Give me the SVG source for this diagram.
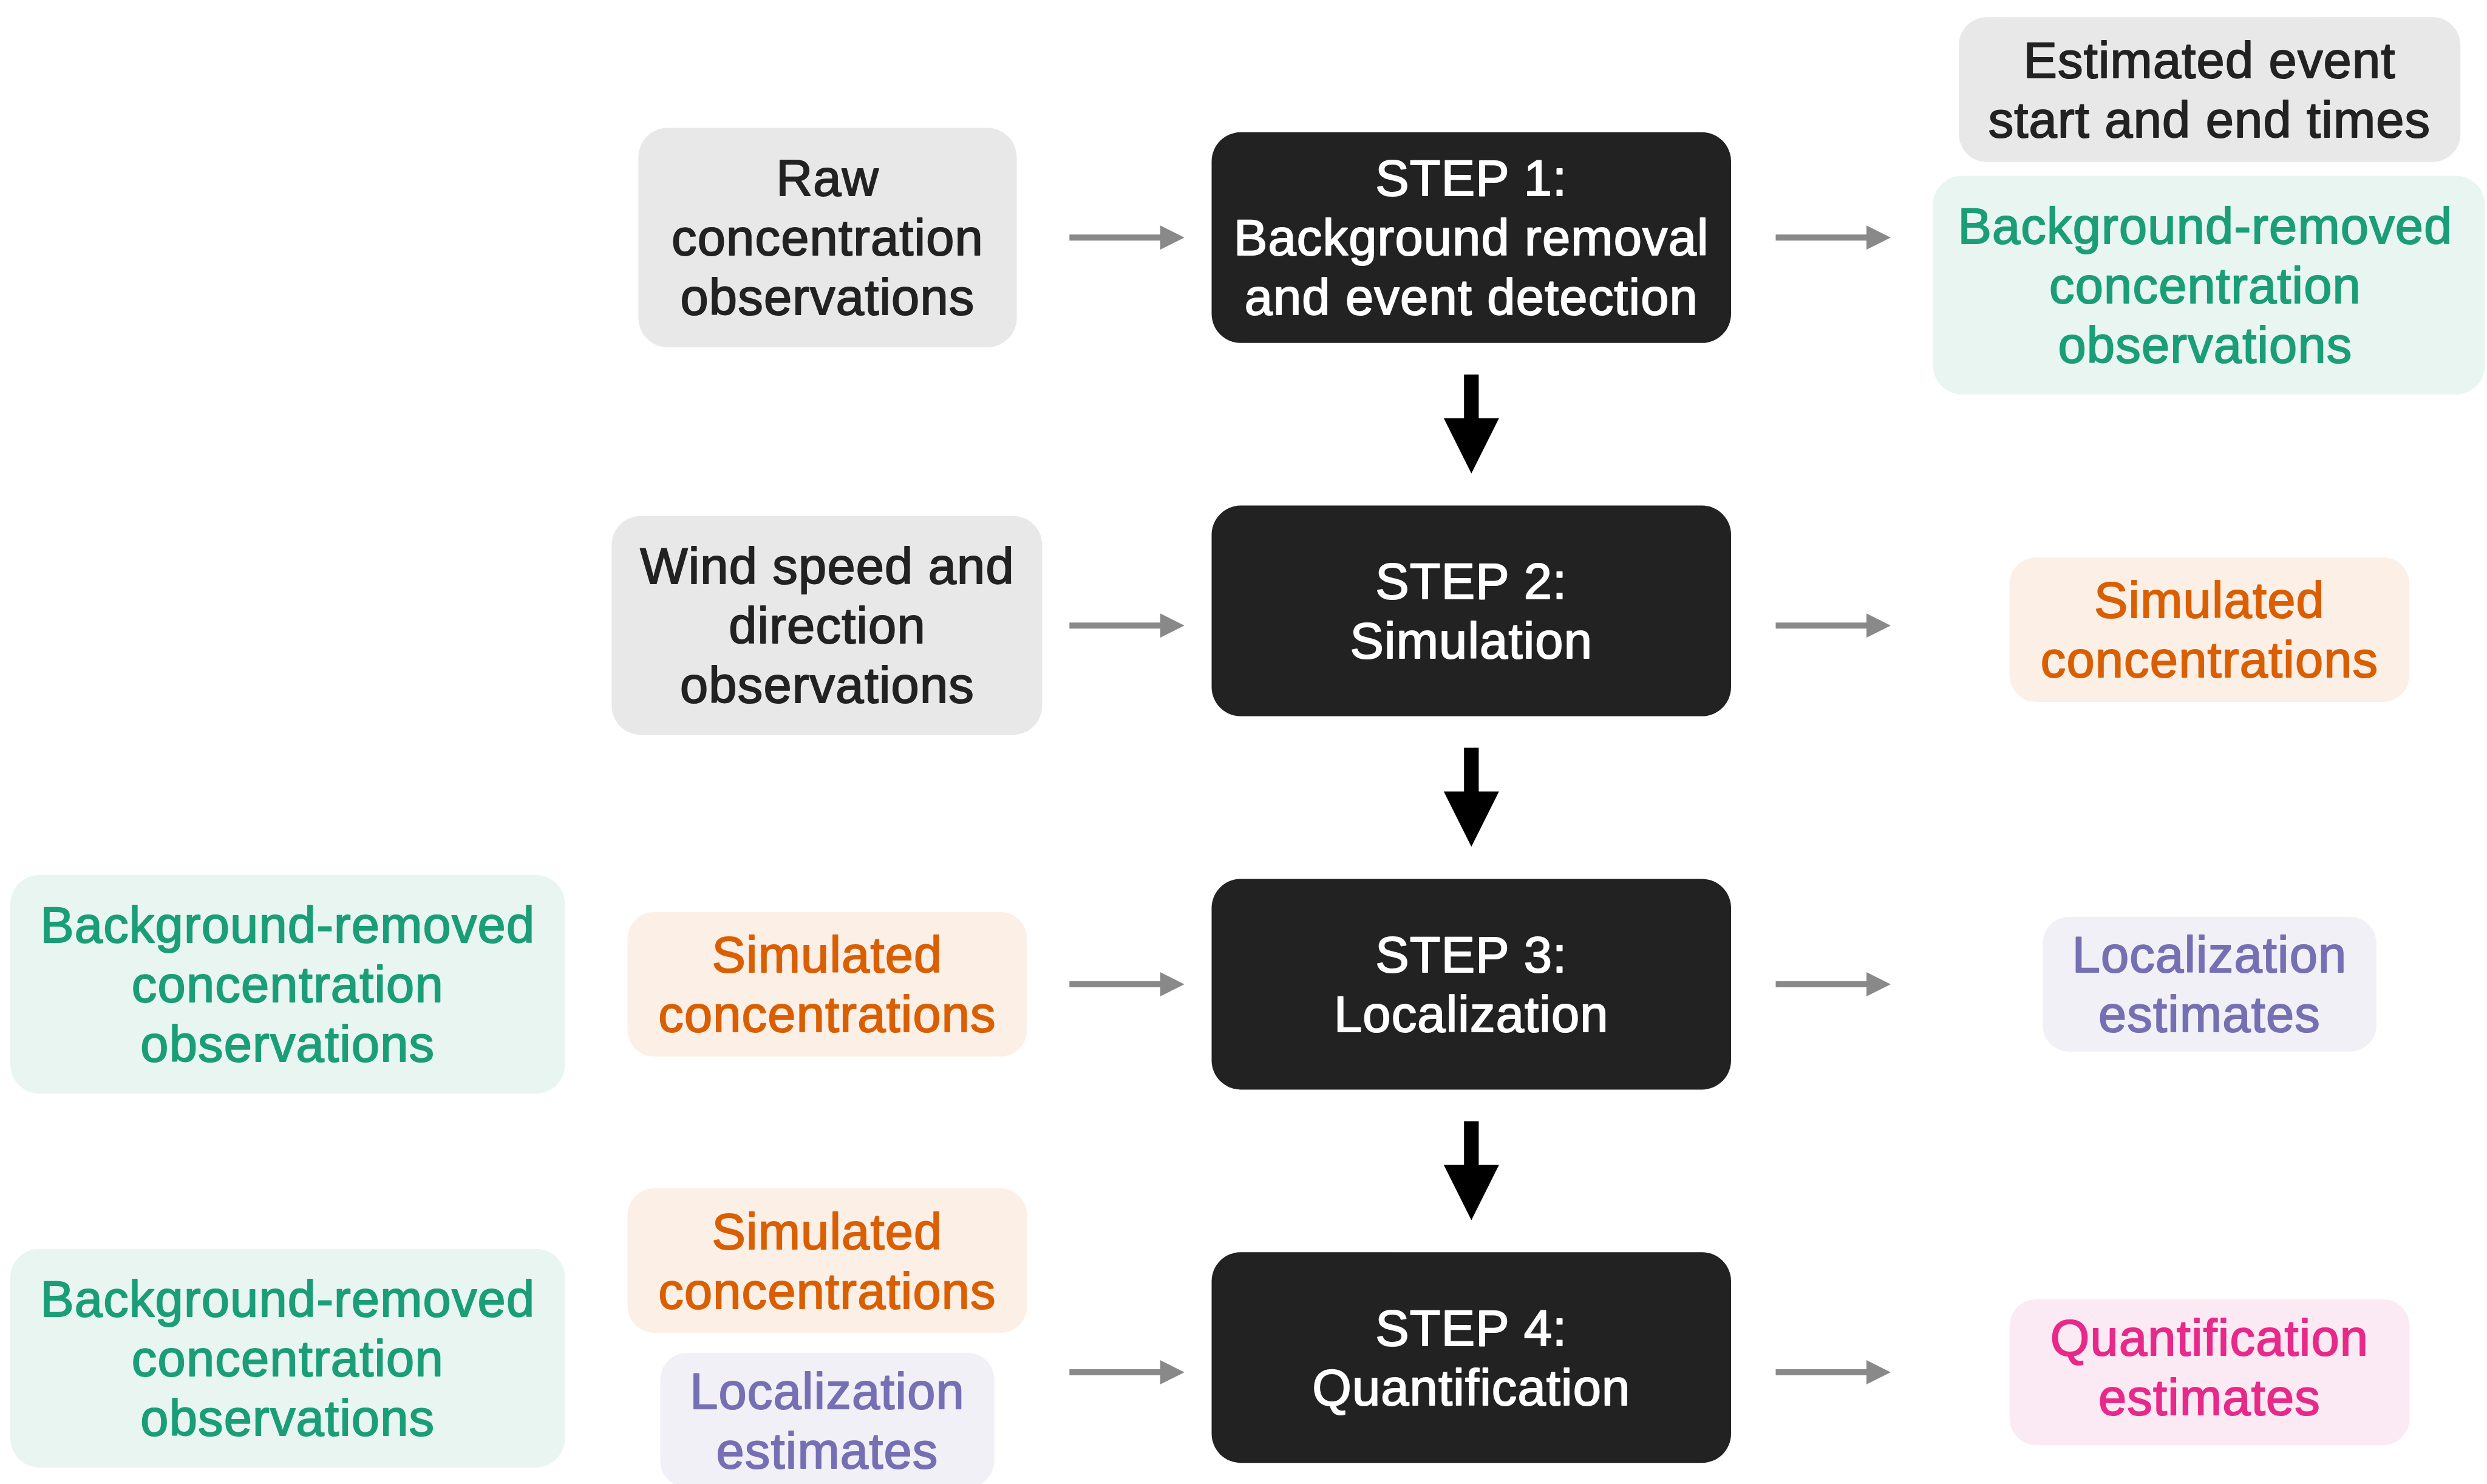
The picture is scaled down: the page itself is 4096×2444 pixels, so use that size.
<svg xmlns="http://www.w3.org/2000/svg" width="4096" height="2444" viewBox="0 0 4096 2444">
  <defs>
    <style>
      text { font-family: "Liberation Sans", Arial, Helvetica, sans-serif; font-size: 83px; letter-spacing: 1.2px; text-anchor: middle; stroke-width: 2px; stroke-linejoin: round; }
      .step rect { fill: #222222; }
      .step text { fill: #ffffff; stroke: #ffffff; }
      .gray rect { fill: #e8e8e8; }
      .gray text { fill: #222222; stroke: #222222; }
      .green rect { fill: #e8f5f1; }
      .green text { fill: #1b9e77; stroke: #1b9e77; }
      .orange rect { fill: #fbefe6; }
      .orange text { fill: #d95f02; stroke: #d95f02; }
      .purple rect { fill: #f1f0f7; }
      .purple text { fill: #7570b3; stroke: #7570b3; }
      .pink rect { fill: #fbe9f3; }
      .pink text { fill: #e7298a; stroke: #e7298a; }
      .feed { fill: #898989; }
      .flow { fill: #000000; }
    </style>
    <!-- horizontal grey arrow, tail at origin, pointing right -->
    <path id="feed-arrow" d="M0,-5 H149.5 V-20 L189.4,0 L149.5,20 V5 H0 Z"/>
    <!-- vertical black arrow, top of shaft at origin, pointing down -->
    <path id="flow-arrow" d="M-12.1,0 H12.1 V72 H45.5 L0,163 L-45.5,72 H-12.1 Z"/>
  </defs>

  <rect width="4096" height="2444" fill="#ffffff"/>

  <!-- connectors -->
  <g id="connectors">
    <use href="#feed-arrow" class="feed" x="1761.3" y="391.3"/>
    <use href="#feed-arrow" class="feed" x="2924.5" y="391.3"/>
    <use href="#feed-arrow" class="feed" x="1761.3" y="1030.2"/>
    <use href="#feed-arrow" class="feed" x="2924.5" y="1030.2"/>
    <use href="#feed-arrow" class="feed" x="1761.3" y="1621"/>
    <use href="#feed-arrow" class="feed" x="2924.5" y="1621"/>
    <use href="#feed-arrow" class="feed" x="1761.3" y="2260"/>
    <use href="#feed-arrow" class="feed" x="2924.5" y="2260"/>
    <use href="#flow-arrow" class="flow" x="2423.3" y="616.8"/>
    <use href="#flow-arrow" class="flow" x="2423.3" y="1231.6"/>
    <use href="#flow-arrow" class="flow" x="2423.3" y="1846.4"/>
  </g>

  <!-- step 1 row -->
  <g id="raw-observations" class="gray">
    <rect x="1051.5" y="210.6" width="623" height="361.3" rx="48"/>
    <text x="1363" y="322.3">Raw</text>
    <text x="1363" y="420.3">concentration</text>
    <text x="1363" y="518.3">observations</text>
  </g>
  <g id="step1" class="step">
    <rect x="1995.5" y="217.8" width="855.5" height="347" rx="48"/>
    <text x="2423.3" y="322.3">STEP 1:</text>
    <text x="2423.3" y="420.3">Background removal</text>
    <text x="2423.3" y="518.3">and event detection</text>
  </g>
  <g id="event-times" class="gray">
    <rect x="3226.2" y="28.2" width="826" height="238.6" rx="46"/>
    <text x="3639" y="128.2">Estimated event</text>
    <text x="3639" y="225.7">start and end times</text>
  </g>
  <g id="bg-removed-out" class="green">
    <rect x="3183.5" y="289.4" width="909" height="360.2" rx="48"/>
    <text x="3632" y="400.5">Background-removed</text>
    <text x="3632" y="498.5">concentration</text>
    <text x="3632" y="596.5">observations</text>
  </g>

  <!-- step 2 row -->
  <g id="wind-observations" class="gray">
    <rect x="1007.4" y="849.7" width="709" height="360.5" rx="48"/>
    <text x="1362.5" y="961">Wind speed and</text>
    <text x="1362.5" y="1059">direction</text>
    <text x="1362.5" y="1157">observations</text>
  </g>
  <g id="step2" class="step">
    <rect x="1995.5" y="832.6" width="855.5" height="347" rx="48"/>
    <text x="2423.3" y="986.1">STEP 2:</text>
    <text x="2423.3" y="1084.1">Simulation</text>
  </g>
  <g id="simulated-out" class="orange">
    <rect x="3309.6" y="918" width="658.8" height="238" rx="44"/>
    <text x="3639" y="1017">Simulated</text>
    <text x="3639" y="1115">concentrations</text>
  </g>

  <!-- step 3 row -->
  <g id="bg-removed-in3" class="green">
    <rect x="17" y="1441" width="913.5" height="360" rx="48"/>
    <text x="473.8" y="1552">Background-removed</text>
    <text x="473.8" y="1650">concentration</text>
    <text x="473.8" y="1748">observations</text>
  </g>
  <g id="simulated-in3" class="orange">
    <rect x="1033.5" y="1502" width="658" height="238" rx="44"/>
    <text x="1362.5" y="1601">Simulated</text>
    <text x="1362.5" y="1699">concentrations</text>
  </g>
  <g id="step3" class="step">
    <rect x="1995.5" y="1447.4" width="855.5" height="347" rx="48"/>
    <text x="2423.3" y="1600.9">STEP 3:</text>
    <text x="2423.3" y="1698.9">Localization</text>
  </g>
  <g id="localization-out" class="purple">
    <rect x="3364" y="1510" width="550" height="222" rx="44"/>
    <text x="3639" y="1601">Localization</text>
    <text x="3639" y="1699">estimates</text>
  </g>

  <!-- step 4 row -->
  <g id="bg-removed-in4" class="green">
    <rect x="17" y="2056.7" width="913.5" height="360" rx="48"/>
    <text x="473.8" y="2167.7">Background-removed</text>
    <text x="473.8" y="2265.7">concentration</text>
    <text x="473.8" y="2363.7">observations</text>
  </g>
  <g id="simulated-in4" class="orange">
    <rect x="1033.5" y="1957" width="658" height="238" rx="44"/>
    <text x="1362.5" y="2057">Simulated</text>
    <text x="1362.5" y="2155">concentrations</text>
  </g>
  <g id="localization-in4" class="purple">
    <rect x="1087.5" y="2228" width="550" height="222" rx="44"/>
    <text x="1362.5" y="2320">Localization</text>
    <text x="1362.5" y="2418">estimates</text>
  </g>
  <g id="step4" class="step">
    <rect x="1995.5" y="2062.2" width="855.5" height="347" rx="48"/>
    <text x="2423.3" y="2215.7">STEP 4:</text>
    <text x="2423.3" y="2313.7">Quantification</text>
  </g>
  <g id="quantification-out" class="pink">
    <rect x="3309.6" y="2140" width="659" height="240" rx="44"/>
    <text x="3639" y="2231.5">Quantification</text>
    <text x="3639" y="2329.6">estimates</text>
  </g>
</svg>
